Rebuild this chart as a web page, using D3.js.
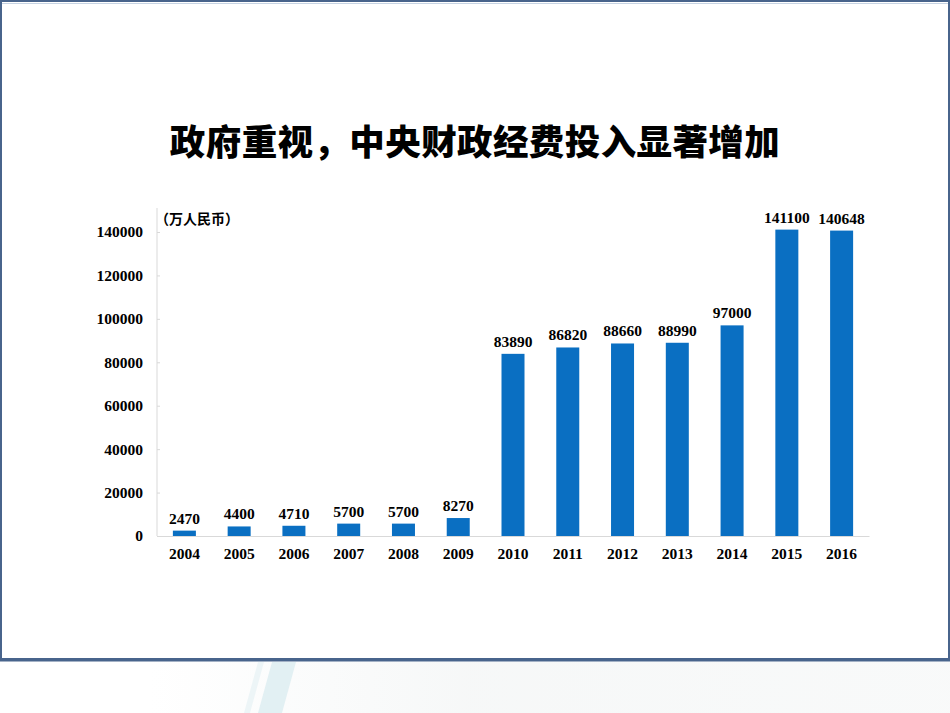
<!DOCTYPE html>
<html>
<head>
<meta charset="utf-8">
<script src="https://cdn.jsdelivr.net/npm/d3@7"></script>
<style>
  body { margin: 0; background: #fff; }
  svg { display: block; }
</style>
</head>
<body>
<svg width="950" height="713"></svg>
<script>
// chart data
const years = ["2004","2005","2006","2007","2008","2009","2010","2011","2012","2013","2014","2015","2016"];
const funds = [2470, 4400, 4710, 5700, 5700, 8270, 83890, 86820, 88660, 88990, 97000, 141100, 140648];
const yTicks = [0, 20000, 40000, 60000, 80000, 100000, 120000, 140000];

const svg = d3.select("svg");

// faint decoration below the frame
const defs = svg.append("defs");
const grad = defs.append("linearGradient").attr("id", "fade").attr("x1", 0).attr("x2", 1);
grad.append("stop").attr("offset", "0").attr("stop-color", "#f4f6f6").attr("stop-opacity", 0);
grad.append("stop").attr("offset", "0.4").attr("stop-color", "#f4f6f6").attr("stop-opacity", 0.8);
grad.append("stop").attr("offset", "1").attr("stop-color", "#f4f6f6").attr("stop-opacity", 0.6);
const deco = svg.append("g");
deco.append("rect")
  .attr("x", 150).attr("y", 662).attr("width", 800).attr("height", 51)
  .attr("fill", "url(#fade)");
deco.append("path")
  .attr("d", "M258,713 L272,662 L296,662 L282,713 Z")
  .attr("fill", "#e2f0f3");
deco.append("path")
  .attr("d", "M244,713 L258,662 L264,662 L250,713 Z")
  .attr("fill", "#edf5f7");

// slide frame
svg.append("rect")
  .attr("x", 1).attr("y", 1).attr("width", 948).attr("height", 658)
  .attr("fill", "#fff").attr("stroke", "#48648c").attr("stroke-width", 2);
svg.append("line")
  .attr("x1", 2).attr("x2", 948).attr("y1", 3.5).attr("y2", 3.5)
  .attr("stroke", "#c6d3e3").attr("stroke-width", 1);
svg.append("line")
  .attr("x1", 0).attr("x2", 950).attr("y1", 660).attr("y2", 660)
  .attr("stroke", "#48648c").attr("stroke-width", 3);

// title
svg.append("text")
  .attr("x", 475).attr("y", 155)
  .attr("text-anchor", "middle")
  .style("font-family", "'Noto Sans CJK SC', sans-serif")
  .style("font-weight", "900")
  .style("font-size", "35.5px")
  .style("letter-spacing", "0.4px")
  .text("政府重视，中央财政经费投入显著增加");

// scales
const x = d3.scaleBand().domain(years).range([157, 869]).paddingInner(0.58).paddingOuter(0.29);
const y = d3.scaleLinear().domain([0, 140000]).range([536, 232]);

const serif = "'Liberation Serif', 'Times New Roman', serif";

// y axis
const yAxis = svg.append("g")
  .attr("transform", "translate(157,0)")
  .call(d3.axisLeft(y).tickValues(yTicks).tickSize(-3).tickPadding(14).tickFormat(d3.format("d")));
yAxis.select(".domain").attr("stroke", "#d9d9d9").attr("d", "M0,208V536");
yAxis.selectAll(".tick line").attr("stroke", "#d9d9d9");
yAxis.selectAll("text")
  .style("font-family", serif).style("font-weight", "bold").style("font-size", "15.5px").attr("fill", "#000");

// x axis
const xAxis = svg.append("g")
  .attr("transform", "translate(0,536)")
  .call(d3.axisBottom(x).tickSize(0).tickPadding(12));
xAxis.select(".domain").attr("stroke", "#d9d9d9");
xAxis.selectAll("text")
  .style("font-family", serif).style("font-weight", "bold").style("font-size", "15.5px").attr("fill", "#000");

// unit label
svg.append("text")
  .attr("x", 155).attr("y", 224)
  .style("font-family", "'Noto Sans CJK SC', sans-serif")
  .style("font-weight", "bold")
  .style("font-size", "14px")
  .text("（万人民币）");

// bars
svg.selectAll(".bar")
  .data(years)
  .enter().append("rect")
  .attr("class", "bar")
  .attr("x", d => x(d))
  .attr("width", x.bandwidth())
  .attr("y", (d, i) => y(funds[i]))
  .attr("height", (d, i) => y(0) - y(funds[i]))
  .attr("fill", "#0a6fc2");

// value labels
svg.selectAll(".val")
  .data(years)
  .enter().append("text")
  .attr("class", "val")
  .attr("x", d => x(d) + x.bandwidth() / 2)
  .attr("y", (d, i) => y(funds[i]) - 7)
  .attr("text-anchor", "middle")
  .style("font-family", serif).style("font-weight", "bold").style("font-size", "15.5px")
  .text((d, i) => funds[i]);
</script>
</body>
</html>
